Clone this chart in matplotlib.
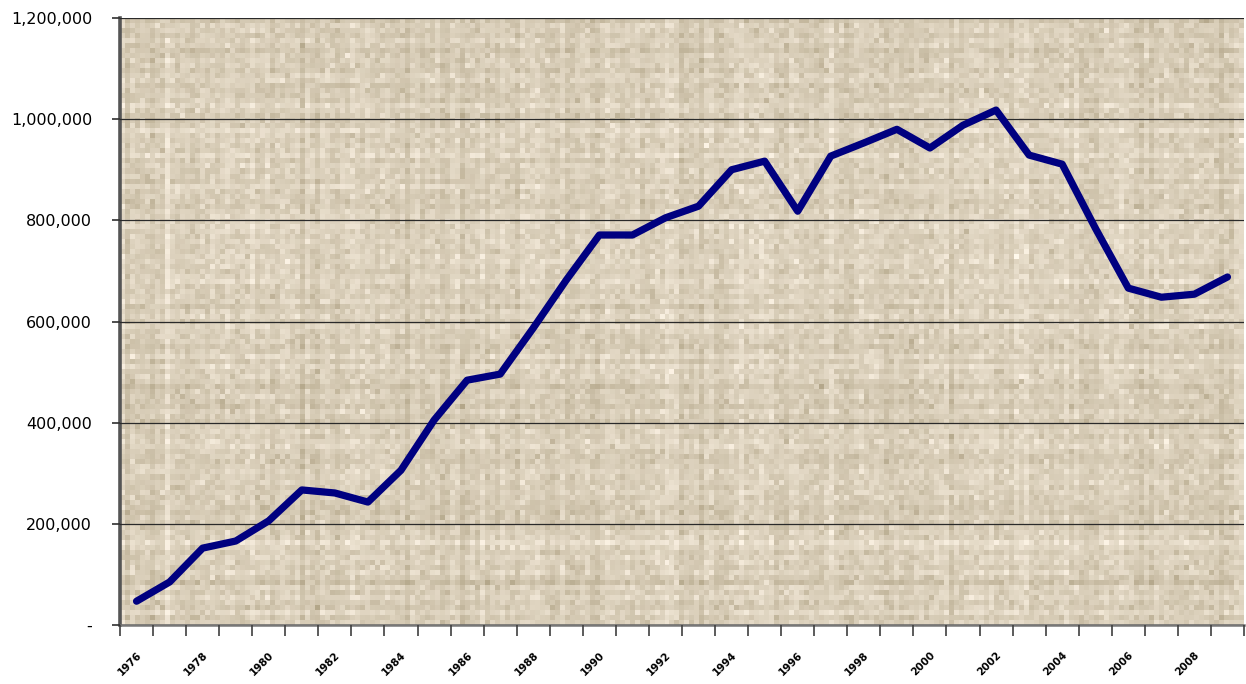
import numpy as np
import matplotlib.pyplot as plt
from matplotlib.ticker import FuncFormatter

years = list(range(1976, 2010))
values = [47000, 85000, 152000, 166000, 206000, 267000, 261000, 243000,
          306000, 405000, 484000, 496000, 587000, 682000, 771000, 771000,
          805000, 828000, 900000, 917000, 818000, 927000, 953000, 980000,
          943000, 988000, 1018000, 929000, 911000, 785000, 666000, 648000,
          654000, 688000]

fig = plt.figure(figsize=(12.46, 6.84), dpi=100)
ax = fig.add_axes([120 / 1246, (684 - 625) / 684, (1244 - 120) / 1246, (625 - 18) / 684])

# beige plaid texture for the plot area
rng = np.random.default_rng(3)
rows, cols = 121, 225
base = np.array([218, 207, 186]) / 255.0
col_var = rng.normal(0, 0.018, cols)
row_var = rng.normal(0, 0.018, rows)
noise = rng.normal(0, 0.03, (rows, cols))
shade = row_var[:, None] + col_var[None, :] + noise
tex = np.clip(base[None, None, :] + shade[:, :, None] * np.array([1.0, 1.05, 1.25]), 0, 1)
ax.imshow(tex, extent=[-0.5, len(years) - 0.5, 0, 1200000], aspect='auto',
          interpolation='nearest', zorder=0)

x = np.arange(len(years))
ax.plot(x, values, color='#000080', linewidth=5.2, solid_joinstyle='round',
        solid_capstyle='round', zorder=3)

ax.set_xlim(-0.5, len(years) - 0.5)
ax.set_ylim(0, 1200000)
ax.set_yticks(np.arange(0, 1200001, 200000))
ax.yaxis.set_major_formatter(FuncFormatter(lambda v, p: '-' if v == 0 else f'{int(v):,}'))
ax.yaxis.grid(True, color='#2a2a2a', linewidth=0.9, zorder=1)
ax.set_axisbelow(False)

ax.set_xticks(x[::2])
ax.set_xticklabels([str(y) for y in years[::2]], rotation=45, ha='right',
                   rotation_mode='anchor', fontsize=7.5, fontweight='bold')
ax.set_xticks(np.arange(-0.5, len(years)), minor=True)
ax.tick_params(axis='x', which='major', length=0, pad=18)
ax.tick_params(axis='x', which='minor', length=8, width=1.2, color='#404040')
ax.tick_params(axis='y', length=6, width=1.2, color='#303030', labelsize=11.5, pad=14)
for lbl in ax.get_yticklabels():
    lbl.set_fontfamily('DejaVu Sans')

for s in ['top', 'right']:
    ax.spines[s].set_visible(False)
ax.spines['left'].set_linewidth(2.6)
ax.spines['left'].set_color('#555555')
ax.spines['bottom'].set_linewidth(1.8)
ax.spines['bottom'].set_color('#777777')

fig.savefig('out.png', dpi=100, facecolor='white')
